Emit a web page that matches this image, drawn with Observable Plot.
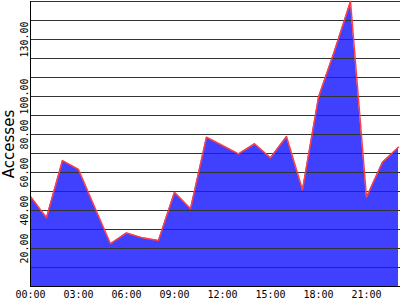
<!DOCTYPE html>
<html>
<head>
<meta charset="utf-8">
<script src="https://cdn.jsdelivr.net/npm/d3@7"></script>
<script src="https://cdn.jsdelivr.net/npm/@observablehq/plot@0.6"></script>
<style>
  html, body { margin: 0; padding: 0; background: #fff; }
  #chart svg { display: block; }
</style>
</head>
<body>
<div id="chart"></div>
<script>
const hours = [0,1,2,3,4,5,6,7,8,9,10,11,12,13,14,15,16,17,18,19,20,21,22,23];
const accesses = [47.4,36.2,66.3,61.6,42,22.5,28.2,25.6,24.2,49.6,40.9,78.6,74.2,69.8,75.1,67.7,78.9,50.9,99.6,124,150,47,65.4,73.3];
const xTicks = [0,3,6,9,12,15,18,21];
const yTickLabels = [20,40,60,80,100,130];
const gridValues = [10,20,30,40,50,60,70,80,90,100,110,120,130,140,150];
const yLabel = "Accesses";

const data = hours.map((h, i) => ({h, v: accesses[i]}));
const mono = "'DejaVu Sans Mono', monospace";

const chart = Plot.plot({
  width: 400,
  height: 300,
  marginLeft: 30,
  marginRight: 0,
  marginTop: 1,
  marginBottom: 14,
  style: {background: "#fff", overflow: "visible"},
  x: {domain: [0, 23.125], axis: null},
  y: {domain: [0, 150], axis: null},
  marks: [
    Plot.areaY(data, {x: "h", y: "v", fill: "#4040ff"}),
    Plot.ruleY(gridValues, {stroke: "#333", strokeWidth: 1}),
    Plot.lineY(data, {x: "h", y: "v", stroke: "#ff4040", strokeWidth: 1.5}),
    Plot.ruleY([0], {stroke: "#000", strokeWidth: 1}),
    Plot.ruleX([0], {stroke: "#000", strokeWidth: 1, y1: 0, y2: 150}),
    Plot.text(xTicks, {
      x: d => d, frameAnchor: "bottom", dy: 8,
      text: d => String(d).padStart(2, "0") + ":00",
      fontFamily: mono, fontSize: 10, fill: "#000", lineAnchor: "middle"
    }),
    Plot.text(yTickLabels, {
      y: d => d, frameAnchor: "left", dx: -6, rotate: -90,
      text: d => d.toFixed(2),
      fontFamily: mono, fontSize: 10, fill: "#000", textAnchor: "middle", lineAnchor: "middle"
    }),
    Plot.text([yLabel], {
      frameAnchor: "left", dx: -21, rotate: -90,
      text: d => d, fontFamily: "'DejaVu Sans', sans-serif", fontSize: 15,
      fill: "#000", textAnchor: "middle", lineAnchor: "middle"
    })
  ]
});
document.getElementById("chart").appendChild(chart);
</script>
</body>
</html>
